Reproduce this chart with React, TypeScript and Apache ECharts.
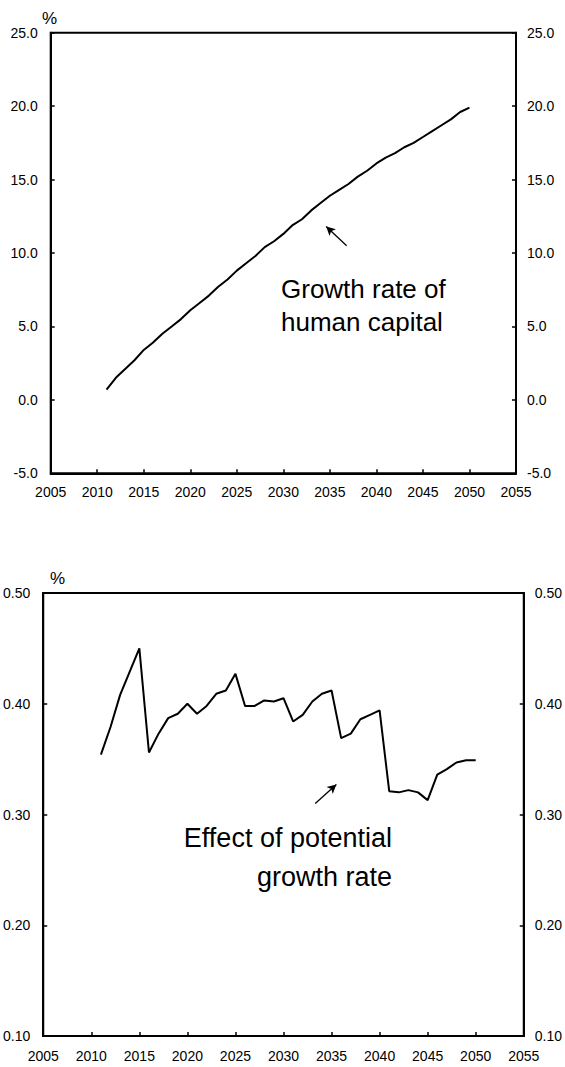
import React, { useEffect, useRef } from "react";
import * as echarts from "echarts";

// Projection years shown in both panels
const years = [
  2011, 2012, 2013, 2014, 2015, 2016, 2017, 2018, 2019, 2020,
  2021, 2022, 2023, 2024, 2025, 2026, 2027, 2028, 2029, 2030,
  2031, 2032, 2033, 2034, 2035, 2036, 2037, 2038, 2039, 2040,
  2041, 2042, 2043, 2044, 2045, 2046, 2047, 2048, 2049, 2050,
];

// Cumulative growth rate of human capital (%)
const humanCapitalGrowth = [
  0.7, 1.5, 2.1, 2.7, 3.4, 3.9, 4.5, 5.0, 5.5, 6.1,
  6.6, 7.1, 7.7, 8.2, 8.8, 9.3, 9.8, 10.4, 10.8, 11.3,
  11.9, 12.3, 12.9, 13.4, 13.9, 14.3, 14.7, 15.2, 15.6, 16.1,
  16.5, 16.8, 17.2, 17.5, 17.9, 18.3, 18.7, 19.1, 19.6, 19.9,
];

// Effect on the potential growth rate (%)
const potentialGrowthEffect = [
  0.354, 0.379, 0.408, 0.429, 0.45, 0.356, 0.373, 0.387, 0.391, 0.4,
  0.391, 0.398, 0.409, 0.412, 0.427, 0.398, 0.398, 0.403, 0.402, 0.405,
  0.384, 0.39, 0.402, 0.409, 0.412, 0.369, 0.373, 0.386, 0.39, 0.394,
  0.321, 0.32, 0.322, 0.32, 0.313, 0.336, 0.341, 0.347, 0.349, 0.349,
];

// Axis ranges
const xRange = { min: 2005, max: 2055, interval: 5 };
const topRange = { min: -5, max: 25, interval: 5 };
const bottomRange = { min: 0.1, max: 0.5, interval: 0.1 };

// Annotation arrows (tail -> head, in data units)
const topArrow = [[2036.8, 10.5], [2034.6, 11.8]];
const bottomArrow = [[2033.3, 0.31], [2035.5, 0.327]];

const FONT = '"Liberation Sans", Arial, sans-serif';

export default function App() {
  const ref = useRef<HTMLDivElement>(null);

  useEffect(() => {
    if (!ref.current) return;
    const chart = echarts.init(ref.current, undefined, { renderer: "svg" });

    const axisLine = { show: true, onZero: false, lineStyle: { color: "#000", width: 2 } };
    const axisTick = { show: true, inside: true, length: 4, lineStyle: { color: "#000", width: 1.5 } };
    const label = (margin: number) => ({ color: "#000", fontSize: 14, fontFamily: FONT, margin });

    const xAxisFor = (gridIndex: number, margin: number) => ({
      type: "value",
      gridIndex,
      ...xRange,
      axisLine,
      axisTick,
      splitLine: { show: false },
      axisLabel: { ...label(margin), formatter: (v: number) => String(v) },
    });

    const yAxisFor = (
      gridIndex: number,
      position: "left" | "right",
      range: { min: number; max: number; interval: number },
      digits: number,
      margin: number
    ) => ({
      type: "value",
      gridIndex,
      position,
      ...range,
      axisLine,
      axisTick,
      splitLine: { show: false },
      axisLabel: { ...label(margin), formatter: (v: number) => v.toFixed(digits) },
    });

    const arrow = (pts: number[][]) => ({
      silent: true,
      symbol: ["none", "arrow"],
      symbolSize: [7, 9],
      lineStyle: { color: "#000", width: 1.3, type: "solid" },
      label: { show: false },
      emphasis: { disabled: true },
      data: [[{ coord: pts[0] }, { coord: pts[1] }]],
    });

    const note = (text: string, x: number, y: number, size: number, align: "left" | "right") => ({
      type: "text",
      x,
      y,
      style: { text, font: `${size}px ${FONT}`, fill: "#000", textAlign: align, textVerticalAlign: "middle" },
    });

    chart.setOption({
      animation: false,
      backgroundColor: "#fff",
      grid: [
        { left: 50.7, right: 49, top: 32.7, bottom: 593.7, show: true, borderColor: "#000", borderWidth: 2 },
        { left: 42.7, right: 39.5, top: 593, bottom: 31, show: true, borderColor: "#000", borderWidth: 2 },
      ],
      xAxis: [xAxisFor(0, 12), xAxisFor(1, 13)],
      yAxis: [
        yAxisFor(0, "left", topRange, 1, 13),
        yAxisFor(0, "right", topRange, 1, 11),
        yAxisFor(1, "left", bottomRange, 2, 13),
        yAxisFor(1, "right", bottomRange, 2, 11),
      ],
      series: [
        {
          type: "line",
          xAxisIndex: 0,
          yAxisIndex: 0,
          data: years.map((y, i) => [y, humanCapitalGrowth[i]]),
          showSymbol: false,
          lineStyle: { color: "#000", width: 2 },
          markLine: arrow(topArrow),
        },
        {
          type: "line",
          xAxisIndex: 1,
          yAxisIndex: 2,
          data: years.map((y, i) => [y, potentialGrowthEffect[i]]),
          showSymbol: false,
          lineStyle: { color: "#000", width: 2 },
          markLine: arrow(bottomArrow),
        },
      ],
      graphic: [
        note("%", 42, 18, 17, "left"),
        note("%", 50, 578, 17, "left"),
        note("Growth rate of", 281, 289, 26, "left"),
        note("human capital", 281, 322, 26, "left"),
        note("Effect of potential", 392, 838, 27, "right"),
        note("growth rate", 392, 877, 27, "right"),
      ],
    });

    return () => chart.dispose();
  }, []);

  return (
    <div
      ref={ref}
      style={{ position: "fixed", left: 0, top: 0, width: 565, height: 1067, background: "#fff" }}
    />
  );
}
